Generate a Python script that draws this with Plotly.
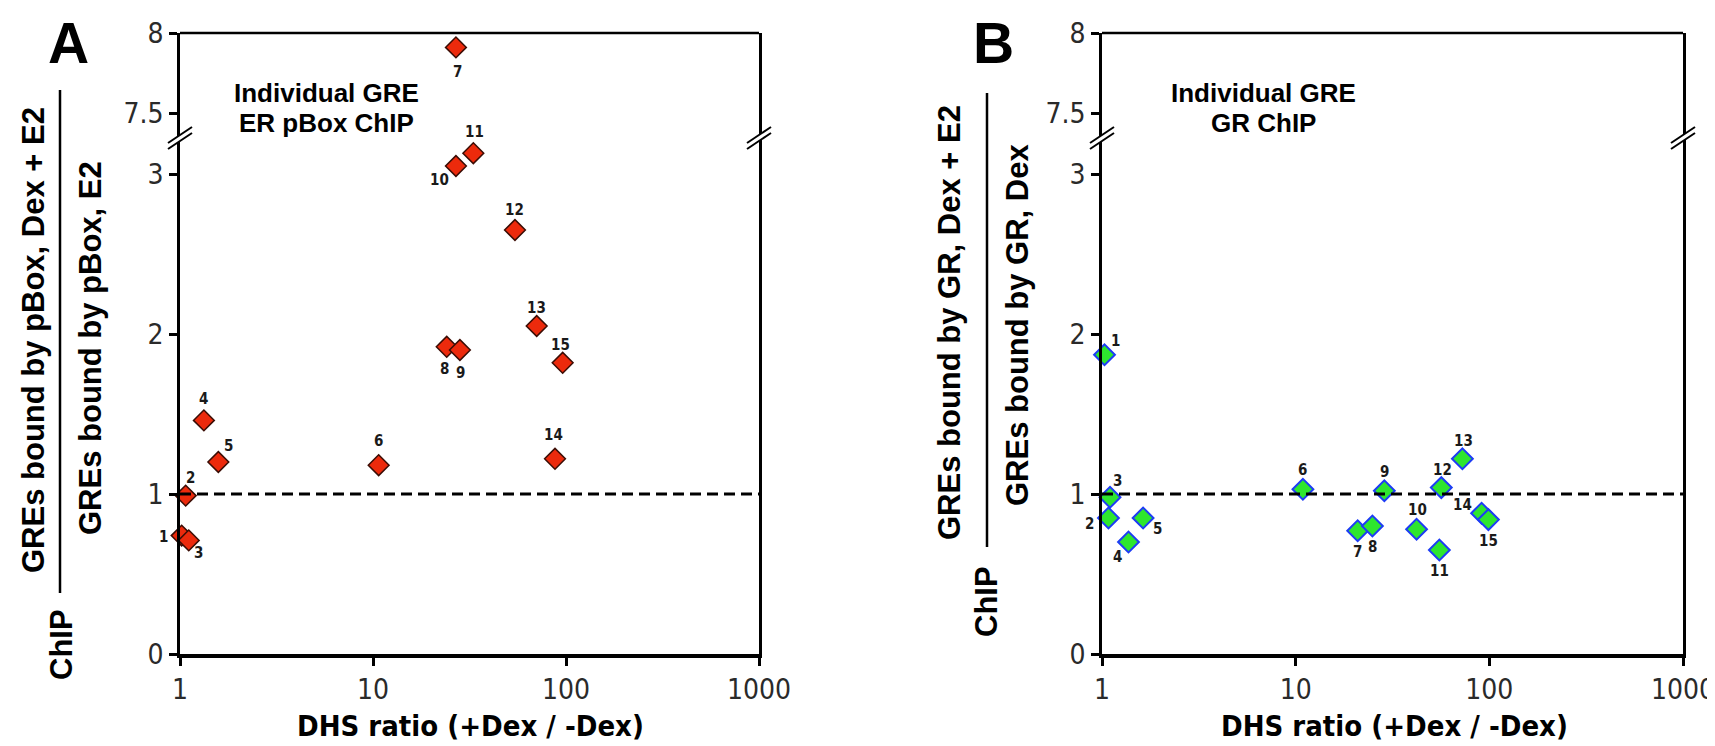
import numpy as np
import plotly.graph_objects as go

# ---------------- data ----------------
labels = [str(i) for i in range(1, 16)]

# Panel A : ER pBox ChIP
A_dhs = [1.02, 1.07, 1.11, 1.33, 1.58, 10.7, 26.9, 24.1, 28.2, 26.9, 33.1, 54.4, 70.5, 87.7, 96.1]
A_ratio = [0.74, 0.99, 0.71, 1.46, 1.20, 1.18, 7.91, 1.92, 1.90, 3.05, 3.13, 2.65, 2.05, 1.22, 1.82]

# Panel B : GR ChIP
B_dhs = [1.03, 1.08, 1.10, 1.37, 1.63, 10.9, 20.9, 24.9, 28.7, 42.1, 55.2, 56.5, 72.6, 91.2, 98.9]
B_ratio = [1.87, 0.85, 0.98, 0.70, 0.85, 1.03, 0.77, 0.80, 1.02, 0.78, 0.65, 1.04, 1.22, 0.88, 0.84]

x_tickvals = [1, 10, 100, 1000]
x_ticktext = ["1", "10", "100", "1000"]
y_low_ticks = [0, 1, 2, 3]
y_high_ticks = [7.5, 8]
y_high_text = ["7.5", "8"]

# ---------------- styling / layout helpers ----------------
PAGE_W, PAGE_H = 1715, 746
BODY_MARGIN = 8                     # default page margin around the plot div
W, H = PAGE_W - BODY_MARGIN, PAGE_H - BODY_MARGIN
def X(px): return (px - BODY_MARGIN) / W          # page pixel -> paper
def Y(py): return 1 - (py - BODY_MARGIN) / H

# label offsets in pixels (dx, dy; dy positive = down)
A_off = [(-18, 1), (5, -18), (10, 13), (0, -21), (10, -16), (0, -24), (2, 25), (-2, 22),
         (1, 23), (-16, 14), (1, -21), (0, -20), (0, -18), (-2, -24), (-2, -18)]
B_off = [(11, -14), (-19, 6), (7, -16), (-11, 15), (14, 11), (0, -19), (0, 21), (0, 21),
         (0, -19), (1, -19), (0, 21), (1, -18), (1, -18), (-19, -8), (0, 21)]

NARROW = "Liberation Sans Narrow, Arial Narrow, DejaVu Sans Condensed, Liberation Sans, sans-serif"
SANS = "Liberation Sans, Arial, sans-serif"

py0, py_break, py8 = 654, 138, 33
ppu = 160.0  # pixels per unit on the y axes
low_top = (py0 - py_break) / ppu
high_bot = 8 - (py_break - py8) / ppu
low_dom = [Y(py0), Y(py_break)]
high_dom = [Y(py_break), Y(py8)]

A_left, A_right = 180, 759
B_left, B_right = 1102, 1683

fig = go.Figure()

A_marker = dict(symbol="diamond", size=16, color="#ec2a0c", line=dict(color="#3a0d05", width=1.5))
B_marker = dict(symbol="diamond", size=16, color="#2ee62e", line=dict(color="#1d3cf5", width=2))

def add_panel(xs, ys, marker, xa, ya_low, ya_high):
    xs = np.array(xs); ys = np.array(ys)
    lo = ys <= low_top
    hi = ys >= high_bot
    fig.add_trace(go.Scatter(x=xs[lo], y=ys[lo], mode="markers", marker=marker,
                             xaxis=xa, yaxis=ya_low, showlegend=False, cliponaxis=False))
    # always create the upper (broken) subplot so its axis gets drawn
    fig.add_trace(go.Scatter(x=xs[hi], y=ys[hi], mode="markers", marker=marker,
                             xaxis=xa, yaxis=ya_high, showlegend=False, cliponaxis=False))

add_panel(A_dhs, A_ratio, A_marker, "x", "y", "y2")
add_panel(B_dhs, B_ratio, B_marker, "x2", "y3", "y4")

axis_line = dict(showline=True, linecolor="black", showgrid=False, zeroline=False, automargin=False,
                 ticks="outside", ticklen=8, tickwidth=2.5, tickcolor="black",
                 ticklabeloverflow="allow",
                 tickfont=dict(family=NARROW, size=28, color="#2a2a2a"))

def xaxis_cfg(dom, anchor):
    d = dict(axis_line)
    d.update(type="log", range=[0, 3], domain=dom, anchor=anchor, linewidth=3.5,
             tickvals=x_tickvals, ticktext=x_ticktext, fixedrange=True)
    return d

def ylow_cfg(anchor):
    d = dict(axis_line)
    d.update(range=[0, low_top], domain=low_dom, anchor=anchor, linewidth=2.5, mirror=True,
             tickvals=y_low_ticks)
    return d

def yhigh_cfg(anchor):
    d = dict(axis_line)
    d.update(range=[high_bot, 8], domain=high_dom, anchor=anchor, linewidth=2.5, mirror=True,
             tickvals=y_high_ticks, ticktext=y_high_text)
    return d

fig.update_layout(
    template="none",
    width=W, height=H, margin=dict(l=0, r=0, t=0, b=0, autoexpand=False),
    paper_bgcolor="white", plot_bgcolor="white",
    xaxis=xaxis_cfg([X(A_left), X(A_right)], "y"),
    yaxis=ylow_cfg("x"),
    yaxis2=yhigh_cfg("x"),
    xaxis2=xaxis_cfg([X(B_left), X(B_right)], "y3"),
    yaxis3=ylow_cfg("x2"),
    yaxis4=yhigh_cfg("x2"),
)

shapes = []
annotations = []

# dashed reference line at ratio = 1, top frame lines
for (xr, yl), (l, r) in zip([("x", "y"), ("x2", "y3")], [(A_left, A_right), (B_left, B_right)]):
    shapes.append(dict(type="line", xref=f"{xr} domain", yref=yl, x0=0, x1=1, y0=1, y1=1,
                       line=dict(color="black", width=3, dash="11px,6px")))
    shapes.append(dict(type="line", xref="paper", yref="paper", x0=X(l), x1=X(r), y0=Y(py8), y1=Y(py8),
                       line=dict(color="black", width=2.5)))

# axis break marks
for cx in [A_left, A_right, B_left, B_right]:
    cy = py_break
    poly = f"M{X(cx-12)},{Y(cy+5)} L{X(cx+12)},{Y(cy-11)} L{X(cx+12)},{Y(cy-5)} L{X(cx-12)},{Y(cy+11)} Z"
    shapes.append(dict(type="path", xref="paper", yref="paper", path=poly,
                       fillcolor="white", line=dict(width=0)))
    for o in (0, 6):
        shapes.append(dict(type="line", xref="paper", yref="paper",
                           x0=X(cx - 12), y0=Y(cy + 5 + o), x1=X(cx + 12), y1=Y(cy - 11 + o),
                           line=dict(color="black", width=2)))

# point labels
def add_labels(xs, ys, offs, xr, yl, yh):
    for lab, xv, yv, (dx, dy) in zip(labels, xs, ys, offs):
        annotations.append(dict(x=np.log10(xv), y=yv, xref=xr, yref=(yl if yv <= low_top else yh),
                                text=f"<b>{lab}</b>", showarrow=False, xshift=dx, yshift=-dy,
                                font=dict(family=NARROW, size=15, color="#1a1a1a")))

add_labels(A_dhs, A_ratio, A_off, "x", "y", "y2")
add_labels(B_dhs, B_ratio, B_off, "x2", "y3", "y4")

def txt(px, py, text, size, family=SANS, angle=0, color="black"):
    annotations.append(dict(x=X(px), y=Y(py), xref="paper", yref="paper", text=text,
                            showarrow=False, textangle=angle, xanchor="center", yanchor="middle",
                            font=dict(family=family, size=size, color=color)))

# panel letters
txt(68, 43, "<b>A</b>", 57)
txt(993, 43, "<b>B</b>", 57)

# inset titles
txt(326, 93, "<b>Individual GRE</b>", 26)
txt(326, 123, "<b>ER pBox ChIP</b>", 26)
txt(1263, 93, "<b>Individual GRE</b>", 26)
txt(1263, 123, "<b>GR ChIP</b>", 26)

# x-axis titles
txt(470, 726, "<b>DHS ratio (+Dex / -Dex)</b>", 29, family=NARROW)
txt(1394, 726, "<b>DHS ratio (+Dex / -Dex)</b>", 29, family=NARROW)

# y-axis fraction titles
txt(33, 340, "<b>GREs bound by pBox, Dex + E2</b>", 31, angle=-90)
txt(90, 348, "<b>GREs bound by pBox, E2</b>", 31, angle=-90)
txt(61, 645, "<b>ChIP</b>", 31, angle=-90)
shapes.append(dict(type="line", xref="paper", yref="paper", x0=X(60), x1=X(60), y0=Y(90), y1=Y(593),
                   line=dict(color="black", width=2.5)))

txt(950, 323, "<b>GREs bound by GR, Dex + E2</b>", 31, angle=-90)
txt(1017, 325, "<b>GREs bound by GR, Dex</b>", 31, angle=-90)
txt(986, 602, "<b>ChIP</b>", 31, angle=-90)
shapes.append(dict(type="line", xref="paper", yref="paper", x0=X(987), x1=X(987), y0=Y(93), y1=Y(547),
                   line=dict(color="black", width=2.5)))

fig.update_layout(shapes=shapes, annotations=annotations)
fig.write_html("out.html")
